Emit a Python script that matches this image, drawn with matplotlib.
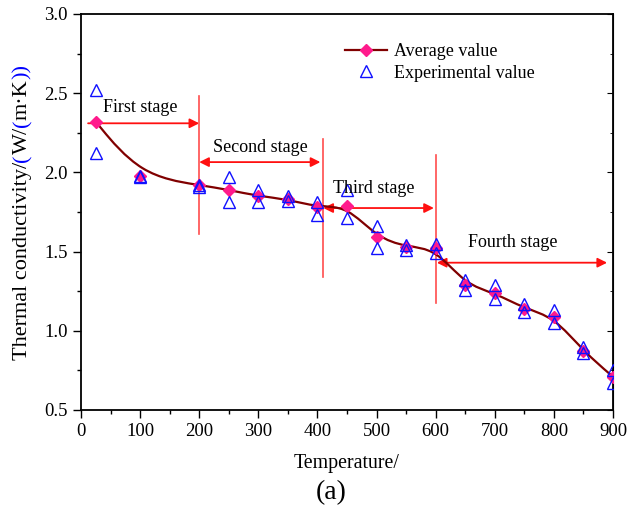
import numpy as np
import matplotlib
matplotlib.use("Agg")
import matplotlib.pyplot as plt
from matplotlib.path import Path
from matplotlib.patches import PathPatch
from matplotlib.lines import Line2D
from matplotlib.transforms import IdentityTransform

plt.rcParams['font.family'] = ['Liberation Serif', 'DejaVu Sans']
plt.rcParams['mathtext.fontset'] = 'stix'

# temperatures and average conductivity
temp = [25, 100, 200, 250, 300, 350, 400, 450, 500, 550, 600, 650, 700, 750, 800, 850, 900]
avg = [2.32, 1.98, 1.92, 1.89, 1.85, 1.83, 1.78, 1.79, 1.59, 1.53, 1.52, 1.29, 1.24, 1.14, 1.09, 0.87, 0.71]

# experimental values (two measurements per temperature)
exp_hi = [2.52, 1.98, 1.92, 1.97, 1.89, 1.85, 1.81, 1.89, 1.66, 1.54, 1.55, 1.32, 1.29, 1.17, 1.13, 0.90, 0.75]
exp_lo = [2.12, 1.97, 1.91, 1.81, 1.81, 1.82, 1.73, 1.71, 1.52, 1.51, 1.49, 1.26, 1.20, 1.12, 1.05, 0.86, 0.67]

# stage boundaries / arrows
stage_names = ['First stage', 'Second stage', 'Third stage', 'Fourth stage']
stage_text_x = [38, 223, 427, 655]
stage_text_y = [2.38, 2.13, 1.868, 1.53]
arrow_start = [12, 200, 410, 602]
arrow_end = [200, 405, 597, 890]
arrow_y = [2.31, 2.065, 1.775, 1.43]
arrow_style = ['-|>', '<|-|>', '<|-|>', '<|-|>']
vline_x = [200, 410, 600]
vline_lo = [1.61, 1.34, 1.175]
vline_hi = [2.48, 2.21, 2.11]

fig = plt.figure(figsize=(6.38, 5.13), dpi=100)
ax = fig.add_axes([81/638, 1-410/513, 532/638, 396/513])

# B-spline curve through the averages (control points = data)
P = np.column_stack([temp, avg])
Q = np.vstack([P[:1], P[:1], P, P[-1:], P[-1:]])
verts = [tuple(P[0])]
codes = [Path.MOVETO]
for i in range(len(Q) - 3):
    q0, q1, q2, q3 = Q[i], Q[i+1], Q[i+2], Q[i+3]
    b1 = (2*q1 + q2) / 3
    b2 = (q1 + 2*q2) / 3
    b3 = (q1 + 4*q2 + q3) / 6
    verts += [tuple(b1), tuple(b2), tuple(b3)]
    codes += [Path.CURVE4] * 3
ax.add_patch(PathPatch(Path(verts, codes), fill=False, edgecolor='#800000', lw=1.6, zorder=3))

ax.plot(temp, avg, 'D', color='#ff1a8c', ms=6.5, zorder=4)
ax.plot(temp, exp_hi, '^', mfc='none', mec='#1010ff', ms=9, mew=1.0, zorder=5)
ax.plot(temp, exp_lo, '^', mfc='none', mec='#1010ff', ms=9, mew=1.0, zorder=5)

for x, lo, hi in zip(vline_x, vline_lo, vline_hi):
    ax.plot([x, x], [lo, hi], color='#ff4d4d', lw=1.2, zorder=2)
for x0, x1, y, st in zip(arrow_start, arrow_end, arrow_y, arrow_style):
    ax.annotate('', xy=(x1, y), xytext=(x0, y),
                arrowprops=dict(arrowstyle=st, color='#ff1010', lw=1.3,
                                mutation_scale=14, shrinkA=0, shrinkB=0), zorder=2)
for name, x, y in zip(stage_names, stage_text_x, stage_text_y):
    ax.text(x, y, name, fontsize=13, ha='left', va='baseline', zorder=6)

ax.set_xlim(0, 900)
ax.set_ylim(0.5, 3.0)
ax.set_xticks(np.arange(0, 901, 100))
ax.set_xticks(np.arange(0, 901, 50), minor=True)
ax.set_yticks(np.arange(0.5, 3.01, 0.5))
ax.set_yticks(np.arange(0.5, 3.01, 0.25), minor=True)
ax.yaxis.set_major_formatter(matplotlib.ticker.FormatStrFormatter('%.1f'))
ax.tick_params(which='major', direction='out', length=6, width=1, labelsize=13.5)
ax.tick_params(which='minor', direction='out', length=3, width=1)
for s in ax.spines.values():
    s.set_linewidth(1.3)
sec = ax.secondary_yaxis('right')
sec.set_yticks(np.arange(0.5, 3.01, 0.5))
sec.set_yticks(np.arange(0.5, 3.01, 0.25), minor=True)
sec.tick_params(which='major', direction='in', length=4, labelright=False)
sec.tick_params(which='minor', direction='in', length=2)

ax.set_xlabel('Temperature/', fontsize=14.3, labelpad=10)
fig.text(331/638, 1-493/513, '(a)', fontsize=20, ha='center', va='center')

handles = [Line2D([], [], color='#800000', lw=1.6, marker='D', mfc='#ff1a8c', mec='#ff1a8c', ms=6.5),
           Line2D([], [], ls='none', marker='^', mfc='none', mec='#1010ff', ms=9)]
ax.legend(handles, ['Average value', 'Experimental value'], loc='upper left',
          bbox_to_anchor=((345-81)/532, (410-43)/396), frameon=False, fontsize=13,
          handlelength=2.3, handletextpad=0.4, borderpad=0, borderaxespad=0, labelspacing=0.25)

# y label with coloured brackets, pieces laid end to end
pieces = [('Thermal conductivity/', 'black'), ('(', 'blue'), ('W/', 'black'),
          ('(', 'blue'), ('m\u00b7K', 'black'), ('))', 'blue')]
texts = [fig.text(0, 0, s, color=c, fontsize=16, rotation=90, rotation_mode='anchor',
                  ha='left', va='baseline', transform=IdentityTransform()) for s, c in pieces]
fig.canvas.draw()
r = fig.canvas.get_renderer()
lens = [t.get_window_extent(r).height for t in texts]
y = (513 - 212) - sum(lens) / 2
for t, L in zip(texts, lens):
    t.set_position((27, y))
    y += L

fig.savefig('out.png', dpi=100)
